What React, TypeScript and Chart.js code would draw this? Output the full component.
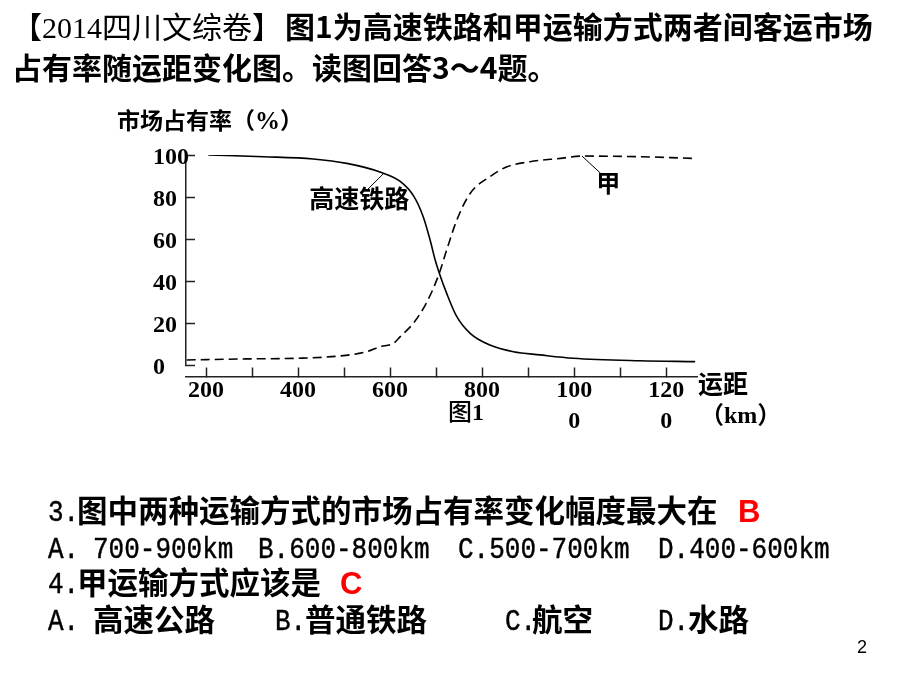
import React, { useEffect, useRef } from "react";
import { Chart, registerables } from "chart.js";

Chart.register(...registerables);

// ---- data ----
const RAIL_KM = [205, 325, 433, 506, 578, 622, 651, 672, 687, 698, 707, 723, 745, 774, 817, 868, 926, 998, 1143, 1263];
const RAIL_SHARE = [100, 99.2, 98.1, 96.0, 91.9, 87.4, 80.5, 70.6, 59.5, 50, 43.7, 34.1, 23, 15.1, 9.5, 6.3, 4.8, 3.2, 2.0, 1.6];
const JIA_KM = [158, 288, 397, 491, 549, 578, 607, 622, 651, 680, 707, 723, 745, 774, 817, 854, 904, 970, 1017, 1143, 1258];
const JIA_SHARE = [2.4, 2.9, 3.2, 4.3, 6.3, 8.7, 10.3, 13.5, 20, 30, 43.7, 54.8, 69, 81.7, 89.7, 94.4, 96.8, 98.4, 99.5, 99.2, 98.4];

const X_TICKS = [200, 300, 400, 500, 600, 700, 800, 900, 1000, 1100, 1200];
const X_LABEL_VALUES = [200, 400, 600, 800, 1000, 1200];
const X_LABEL_TEXT: (string | string[])[] = ["200", "400", "600", "800", ["100", "0"], ["120", "0"]];
const Y_TICKS = [0, 10, 20, 30, 40, 50, 60, 70, 80, 90, 100];
const Y_LABEL_VALUES = [0, 20, 40, 60, 80, 100];
const Y_LABEL_TEXT = ["0", "20", "40", "60", "80", "100"];

// annotation labels in data space (km, %)
const ANNOTATIONS = [
  { text: "高速铁路", km: 533, value: 79.5, size: 25, from: [587, 91.4], to: [552, 83.8] },
  { text: "甲", km: 1074, value: 86.7, size: 24, from: [1017, 99.5], to: [1057, 91.4] },
];

const CJK = '"Noto Sans CJK SC", sans-serif';
const SERIF = '"Liberation Serif", "Times New Roman", serif';
const MONO = '"Liberation Mono", "Courier New", monospace';
const SANS = '"Liberation Sans", Arial, sans-serif';
const AXIS = "#222";

const annotationPlugin = {
  id: "curveLabels",
  afterDatasetsDraw(chart: any) {
    const { ctx, scales } = chart;
    const x = scales.x;
    const y = scales.y;
    ctx.save();
    ctx.strokeStyle = "#000";
    ctx.lineWidth = 1;
    ctx.fillStyle = "#000";
    ctx.textAlign = "center";
    ctx.textBaseline = "middle";
    for (const a of ANNOTATIONS) {
      ctx.beginPath();
      ctx.moveTo(x.getPixelForValue(a.from[0]), y.getPixelForValue(a.from[1]));
      ctx.lineTo(x.getPixelForValue(a.to[0]), y.getPixelForValue(a.to[1]));
      ctx.stroke();
      ctx.font = `bold ${a.size}px ${CJK}`;
      ctx.fillText(a.text, x.getPixelForValue(a.km), y.getPixelForValue(a.value));
    }
    ctx.restore();
  },
};

function ChartCanvas() {
  const ref = useRef<HTMLCanvasElement | null>(null);
  useEffect(() => {
    if (!ref.current) return;
    const chart = new Chart(ref.current, {
      type: "line",
      data: {
        datasets: [
          {
            label: "高速铁路",
            data: RAIL_KM.map((k, i) => ({ x: k, y: RAIL_SHARE[i] })),
            borderColor: "#000",
            borderWidth: 1.6,
            pointRadius: 0,
            fill: false,
            cubicInterpolationMode: "monotone",
          },
          {
            label: "甲",
            data: JIA_KM.map((k, i) => ({ x: k, y: JIA_SHARE[i] })),
            borderColor: "#000",
            borderWidth: 1.6,
            borderDash: [9, 5],
            pointRadius: 0,
            fill: false,
            cubicInterpolationMode: "monotone",
          },
        ],
      },
      options: {
        animation: false,
        responsive: false,
        maintainAspectRatio: false,
        layout: { padding: { left: 186, right: 223, top: 155, bottom: 325 } },
        plugins: {
          legend: { display: false },
          tooltip: { enabled: false },
          title: { display: false },
        },
        scales: {
          x: {
            type: "linear",
            min: 156.5,
            max: 1267,
            position: { y: -5.7 } as any,
            afterFit: (s: any) => {
              s.height = 0;
            },
            afterBuildTicks: (s: any) => {
              s.ticks = X_TICKS.map((v) => ({ value: v }));
            },
            grid: { drawOnChartArea: false, tickLength: -10, color: AXIS, tickColor: AXIS, tickWidth: 1.5 },
            border: { display: true, color: AXIS, width: 1.5 },
            ticks: {
              autoSkip: false,
              maxRotation: 0,
              minRotation: 0,
              padding: 8.4,
              color: "#000",
              font: { family: SERIF, size: 24, weight: "bold", lineHeight: 1.3 },
              callback: (v: any) => {
                const i = X_LABEL_VALUES.indexOf(Number(v));
                return i >= 0 ? X_LABEL_TEXT[i] : "";
              },
            },
          },
          y: {
            type: "linear",
            position: "left",
            min: 0,
            max: 100,
            afterFit: (s: any) => {
              s.width = 0;
            },
            afterBuildTicks: (s: any) => {
              s.ticks = Y_TICKS.map((v) => ({ value: v }));
            },
            grid: { drawOnChartArea: false, tickLength: -9, color: AXIS, tickColor: AXIS, tickWidth: 1.5 },
            border: { display: true, color: AXIS, width: 1.5 },
            ticks: {
              mirror: true,
              padding: -33,
              labelOffset: 3,
              color: "#000",
              font: { family: SERIF, size: 24, weight: "bold" },
              callback: (v: any) => {
                const i = Y_LABEL_VALUES.indexOf(Number(v));
                return i >= 0 ? Y_LABEL_TEXT[i] : "";
              },
            },
          },
        },
      },
      plugins: [annotationPlugin],
    } as any);
    return () => chart.destroy();
  }, []);
  return (
    <canvas
      ref={ref}
      width={920}
      height={690}
      style={{ position: "absolute", left: 0, top: 0, width: 920, height: 690 }}
    />
  );
}

// visual-centre factor per family (glyph centre as fraction of font size below line top)
const FACTOR: Record<string, number> = { cjk: 0.556, mono: 0.44, serif: 0.51, sans: 0.49 };

function T(props: {
  x: number;
  cy: number;
  size: number;
  kind?: "cjk" | "mono" | "serif" | "sans";
  weight?: number;
  color?: string;
  children: React.ReactNode;
}) {
  const kind = props.kind || "cjk";
  const fam = kind === "cjk" ? CJK : kind === "mono" ? MONO : kind === "serif" ? SERIF : SANS;
  const mono = kind === "mono";
  return (
    <div
      style={{
        position: "absolute",
        left: props.x,
        top: props.cy - props.size * FACTOR[kind],
        fontSize: props.size,
        lineHeight: `${props.size}px`,
        fontFamily: fam,
        fontWeight: props.weight ?? 700,
        color: props.color || "#000",
        whiteSpace: "pre",
        transform: mono ? "scaleY(1.12)" : undefined,
        transformOrigin: "left center",
        WebkitTextStroke: mono ? "0.4px #000" : undefined,
      }}
    >
      {props.children}
    </div>
  );
}

export default function App() {
  return (
    <div
      style={{
        position: "fixed",
        left: 0,
        top: 0,
        width: 920,
        height: 690,
        background: "#fff",
        overflow: "hidden",
      }}
    >
      <ChartCanvas />

      {/* heading */}
      <T x={12} cy={27} size={30} weight={400}>
        【<span style={{ fontFamily: SERIF }}>2014</span>四川文综卷】
      </T>
      <T x={285} cy={27} size={30}>图1为高速铁路和甲运输方式两者间客运市场</T>
      <T x={12} cy={68} size={30}>占有率随运距变化图。读图回答3～4题。</T>

      {/* chart texts */}
      <T x={117} cy={121} size={23}>
        市场占有率（<span style={{ fontFamily: SERIF, fontSize: 25 }}>%</span>）
      </T>
      <T x={698} cy={384} size={25}>运距</T>
      <T x={700} cy={414} size={24}>
        （<span style={{ fontFamily: SERIF }}>km</span>）
      </T>
      <T x={448} cy={411} size={24} weight={500}>
        图<span style={{ fontFamily: SERIF, fontWeight: 700 }}>1</span>
      </T>

      {/* question 3 */}
      <T x={48} cy={511} size={26} kind="mono" weight={400}>3.</T>
      <T x={77} cy={511} size={30.5}>图中两种运输方式的市场占有率变化幅度最大在</T>
      <T x={738} cy={511} size={31} kind="sans" color="#ff0000">B</T>

      <T x={48} cy={548} size={26} kind="mono" weight={400}>A.</T>
      <T x={93} cy={548} size={26} kind="mono" weight={400}>700-900km</T>
      <T x={258} cy={548} size={26} kind="mono" weight={400}>B.600-800km</T>
      <T x={458} cy={548} size={26} kind="mono" weight={400}>C.500-700km</T>
      <T x={658} cy={548} size={26} kind="mono" weight={400}>D.400-600km</T>

      {/* question 4 */}
      <T x={48} cy={583} size={26} kind="mono" weight={400}>4.</T>
      <T x={77} cy={583} size={30.5}>甲运输方式应该是</T>
      <T x={340} cy={583} size={31} kind="sans" color="#ff0000">C</T>

      <T x={48} cy={620} size={26} kind="mono" weight={400}>A.</T>
      <T x={93} cy={620} size={30.5}>高速公路</T>
      <T x={275} cy={620} size={26} kind="mono" weight={400}>B.</T>
      <T x={305} cy={620} size={30.5}>普通铁路</T>
      <T x={505} cy={620} size={26} kind="mono" weight={400}>C.</T>
      <T x={532} cy={620} size={30.5}>航空</T>
      <T x={658} cy={620} size={26} kind="mono" weight={400}>D.</T>
      <T x={688} cy={620} size={30.5}>水路</T>

      <T x={857} cy={647} size={18} kind="sans" weight={400}>2</T>
    </div>
  );
}
